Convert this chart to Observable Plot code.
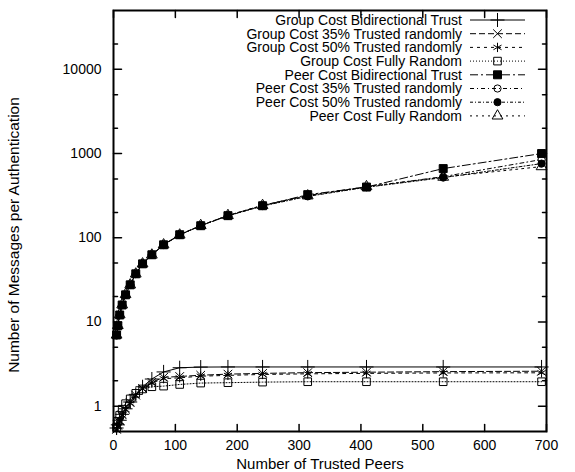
<!DOCTYPE html>
<html><head><meta charset="utf-8">
<script src="https://cdn.jsdelivr.net/npm/d3@7"></script>
<script src="https://cdn.jsdelivr.net/npm/@observablehq/plot@0.6"></script>
<style>
body{margin:0;background:#fff}
#chart svg{font-family:"Liberation Sans",Arial,Helvetica,sans-serif}
</style>
</head><body><div id="chart"></div>
<script>
// ---- data ----
const peers = [5, 7, 10, 14, 19.5, 27, 36, 47, 62, 81, 107, 141, 185, 241, 314, 409, 533, 692];
const seriesNames = [
  "Group Cost Bidirectional Trust",
  "Group Cost 35% Trusted randomly",
  "Group Cost 50% Trusted randomly",
  "Group Cost Fully Random",
  "Peer Cost Bidirectional Trust",
  "Peer Cost 35% Trusted randomly",
  "Peer Cost 50% Trusted randomly",
  "Peer Cost Fully Random"
];
const groupBidirectional = [0.55, 0.6, 0.68, 0.8, 0.93, 1.12, 1.38, 1.7, 2.1, 2.55, 2.86, 2.91, 2.92, 2.92, 2.92, 2.92, 2.92, 2.92];
const group35 = [0.53, 0.59, 0.67, 0.79, 0.92, 1.1, 1.35, 1.62, 1.92, 2.2, 2.25, 2.33, 2.4, 2.45, 2.5, 2.53, 2.57, 2.6];
const group50 = [0.52, 0.58, 0.66, 0.78, 0.91, 1.08, 1.33, 1.6, 1.88, 2.12, 2.17, 2.27, 2.32, 2.38, 2.42, 2.45, 2.48, 2.49];
const groupRandom = [0.56, 0.66, 0.78, 0.92, 1.07, 1.22, 1.42, 1.6, 1.7, 1.73, 1.81, 1.88, 1.9, 1.93, 1.95, 1.95, 1.95, 1.95];
const peerBidirectional = [7.0, 9.0, 12.1, 15.9, 21, 27.6, 37.3, 49, 62.8, 82.5, 108.6, 139, 183, 240, 325, 400, 663, 1000];
const peer35 = [7.0, 9.0, 12.0, 16.0, 21, 27.5, 37, 49, 63, 83, 109, 140, 184, 243, 318, 402, 532, 849];
const peer50 = [6.9, 8.9, 12.1, 15.8, 21, 27.8, 37.5, 49.5, 63, 82, 108, 139, 182, 238, 310, 398, 518, 760];
const peerRandom = [7.0, 9.1, 12.2, 16.0, 21.2, 27.6, 37.2, 49, 62.5, 82.5, 108, 140, 184, 242, 315, 405, 525, 700];
const seriesValues = [groupBidirectional, group35, group50, groupRandom, peerBidirectional, peer35, peer50, peerRandom];

const xTickValues = [0, 100, 200, 300, 400, 500, 600, 700];
const yTickValues = [1, 10, 100, 1000, 10000];
const yMinorTickValues = [2, 5, 20, 50, 200, 500, 2000, 5000, 20000];
const xTitle = "Number of Trusted Peers";
const yTitle = "Number of Messages per Authentication";

// ---- styles ----
const dashes = [null, "6,3", "3,4", "1,2", "8,3,2,3", "4,3,1,3", "3,2,1,2", "2,4"];
const symbols = ["plus", "times", "asterisk", "square", "square", "circle", "circle", "triangle"];
const fills = ["none", "none", "none", "none", "black", "none", "black", "none"];
const radii = [4.6, 4.0, 4.4, 4.3, 4.5, 3.6, 3.6, 4.0];

const W = 575, H = 472, mL = 113, mR = 29, mT = 10, mB = 41;
const lineShape = {draw(ctx, l) { ctx.moveTo(0, 0); ctx.lineTo(0, -l); }};

const marks = [];
seriesNames.forEach((name, i) => {
  const rows = peers.map((x, j) => ({x, y: seriesValues[i][j]}));
  marks.push(Plot.line(rows, {x: "x", y: "y", stroke: "black", strokeWidth: 1, strokeDasharray: dashes[i] || undefined}));
  marks.push(Plot.dot(rows, {x: "x", y: "y", symbol: symbols[i], r: radii[i], stroke: "black", fill: fills[i], strokeWidth: 1}));
});
// ticks (inward, mirrored)
const tickOpts = {stroke: "black", strokeWidth: 1.5, anchor: "start", shape: lineShape};
marks.push(Plot.vector(xTickValues, {...tickOpts, x: d => d, frameAnchor: "bottom", rotate: 0, length: 7}));
marks.push(Plot.vector(xTickValues, {...tickOpts, x: d => d, frameAnchor: "top", rotate: 180, length: 7}));
marks.push(Plot.vector(yTickValues, {...tickOpts, y: d => d, frameAnchor: "left", rotate: 90, length: 8}));
marks.push(Plot.vector(yTickValues, {...tickOpts, y: d => d, frameAnchor: "right", rotate: -90, length: 8}));
marks.push(Plot.vector(yMinorTickValues, {...tickOpts, y: d => d, frameAnchor: "left", rotate: 90, length: 4}));
marks.push(Plot.vector(yMinorTickValues, {...tickOpts, y: d => d, frameAnchor: "right", rotate: -90, length: 4}));
// tick labels
marks.push(Plot.axisX(xTickValues, {anchor: "bottom", tickSize: 0, tickPadding: 9, fontSize: 14, label: null, tickFormat: d => String(d)}));
marks.push(Plot.axisY(yTickValues, {anchor: "left", tickSize: 0, tickPadding: 12, fontSize: 14, label: null, tickFormat: d => String(d)}));
// axis titles
marks.push(Plot.text([xTitle], {text: d => d, frameAnchor: "bottom", textAnchor: "middle", dx: -10, dy: 33, fontSize: 15, lineAnchor: "middle"}));
marks.push(Plot.text([yTitle], {text: d => d, frameAnchor: "left", textAnchor: "middle", dx: -99, dy: 14, rotate: -90, fontSize: 15.5, lineAnchor: "middle"}));
marks.push(Plot.frame({stroke: "black", strokeWidth: 2}));

const chart = Plot.plot({
  width: W, height: H,
  marginLeft: mL, marginRight: mR, marginTop: mT, marginBottom: mB,
  x: {domain: [0, 700]},
  y: {type: "log", domain: [0.5, 50000]},
  style: {fontFamily: "'Liberation Sans', Arial, Helvetica, sans-serif", fontSize: "14px", color: "black", background: "white"},
  marks
});
document.getElementById("chart").appendChild(chart);

// ---- legend (inside the frame, top right) ----
const svg = d3.select(chart);
const lg = svg.append("g").attr("class", "legend");
const right = W - mR;
const textEnd = right - 84, lineStart = right - 76, lineEnd = right - 21;
const symbolMap = {plus: d3.symbolPlus, times: d3.symbolTimes, asterisk: d3.symbolAsterisk, square: d3.symbolSquare, circle: d3.symbolCircle, triangle: d3.symbolTriangle};
seriesNames.forEach((name, i) => {
  const y = mT + 10 + i * 13.7;
  lg.append("text").attr("x", textEnd).attr("y", y).attr("dy", "0.35em")
    .attr("text-anchor", "end").attr("font-size", 14).attr("fill", "black").text(name);
  lg.append("line").attr("x1", lineStart).attr("x2", lineEnd).attr("y1", y).attr("y2", y)
    .attr("stroke", "black").attr("stroke-width", 1).attr("stroke-dasharray", dashes[i]);
  lg.append("path").attr("transform", `translate(${(lineStart + lineEnd) / 2},${y})`)
    .attr("d", d3.symbol(symbolMap[symbols[i]], Math.PI * radii[i] * radii[i])())
    .attr("fill", fills[i]).attr("stroke", "black").attr("stroke-width", 1);
});
</script>
</body></html>
